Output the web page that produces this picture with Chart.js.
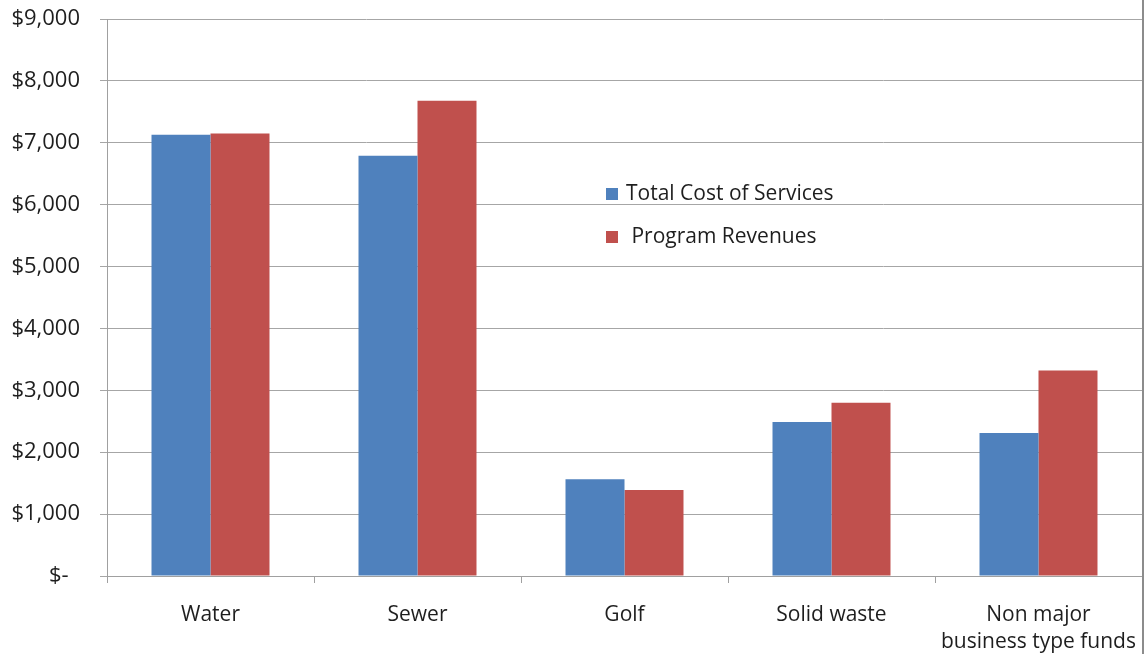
<!DOCTYPE html>
<html>
<head>
<meta charset="utf-8">
<script src="https://cdn.jsdelivr.net/npm/chart.js@4/dist/chart.umd.min.js"></script>
<style>
  html, body { margin: 0; padding: 0; background: #ffffff; }
  #wrap { position: relative; width: 1145px; height: 654px; }
</style>
</head>
<body>
<div id="wrap"><canvas id="c" width="1145" height="654"></canvas></div>
<script>
const categories = ["Water", "Sewer", "Golf", "Solid waste", ["Non major", "business type funds"]];
const totalCostOfServices = [7130, 6790, 1565, 2490, 2310];
const programRevenues = [7150, 7680, 1390, 2800, 3320];
const seriesNames = ["Total Cost of Services", " Program Revenues"];
const seriesColors = ["#4F81BD", "#C0504D"];
const yTickLabels = ["$-  ", "$1,000", "$2,000", "$3,000", "$4,000", "$5,000", "$6,000", "$7,000", "$8,000", "$9,000"];

const FONT = "'Open Sans', Lato, sans-serif";

const legendPlugin = {
  id: 'innerLegend',
  afterDraw(chart) {
    const ctx = chart.ctx;
    ctx.save();
    ctx.font = "21px " + FONT;
    ctx.textBaseline = 'middle';
    ctx.textAlign = 'left';
    const x0 = 606;
    const ys = [194, 237];
    chart.data.datasets.forEach((ds, i) => {
      ctx.fillStyle = ds.backgroundColor;
      ctx.fillRect(x0, ys[i] - 6, 12, 12);
      ctx.fillStyle = '#1e1e1e';
      ctx.fillText(ds.label, x0 + 20, ys[i]);
    });
    ctx.restore();
  }
};

const borderPlugin = {
  id: 'rightBorder',
  afterDraw(chart) {
    const ctx = chart.ctx;
    ctx.save();
    ctx.strokeStyle = '#8c8c8c';
    ctx.lineWidth = 2;
    ctx.beginPath();
    ctx.moveTo(1143, 0);
    ctx.lineTo(1143, chart.height);
    ctx.stroke();
    ctx.restore();
  }
};

new Chart(document.getElementById('c'), {
  type: 'bar',
  data: {
    labels: categories,
    datasets: [
      { label: seriesNames[0], data: totalCostOfServices, backgroundColor: seriesColors[0], borderWidth: 0 },
      { label: seriesNames[1], data: programRevenues, backgroundColor: seriesColors[1], borderWidth: 0 }
    ]
  },
  options: {
    responsive: false,
    animation: false,
    devicePixelRatio: 1,
    layout: { padding: { top: 19, right: 3, left: 0, bottom: 0 } },
    plugins: {
      legend: { display: false },
      tooltip: { enabled: false }
    },
    datasets: { bar: { categoryPercentage: 0.57, barPercentage: 1.0 } },
    scales: {
      x: {
        afterFit(scale) {
          scale.height = 78;
          scale.paddingLeft = 0;
          scale.paddingRight = 0;
        },
        grid: {
          display: true,
          drawOnChartArea: false,
          drawTicks: true,
          tickLength: 7,
          color: '#a0a0a0',
          offset: true
        },
        border: { display: true, color: '#a0a0a0', width: 1 },
        ticks: {
          padding: 18,
          color: '#1e1e1e',
          font: { family: FONT, size: 21, lineHeight: 1.3 },
          maxRotation: 0,
          autoSkip: false
        }
      },
      y: {
        min: 0,
        max: 9000,
        afterFit(scale) {
          scale.width = 107;
          scale.paddingTop = 0;
          scale.paddingBottom = 0;
        },
        grid: {
          color: '#a6a6a6',
          lineWidth: 1,
          drawTicks: true,
          tickLength: 7
        },
        border: { display: true, color: '#a0a0a0', width: 1 },
        ticks: {
          stepSize: 1000,
          padding: 20,
          color: '#1e1e1e',
          font: { family: FONT, size: 22 },
          callback: (v) => yTickLabels[Math.round(v / 1000)]
        }
      }
    }
  },
  plugins: [legendPlugin, borderPlugin]
});
</script>
</body>
</html>
